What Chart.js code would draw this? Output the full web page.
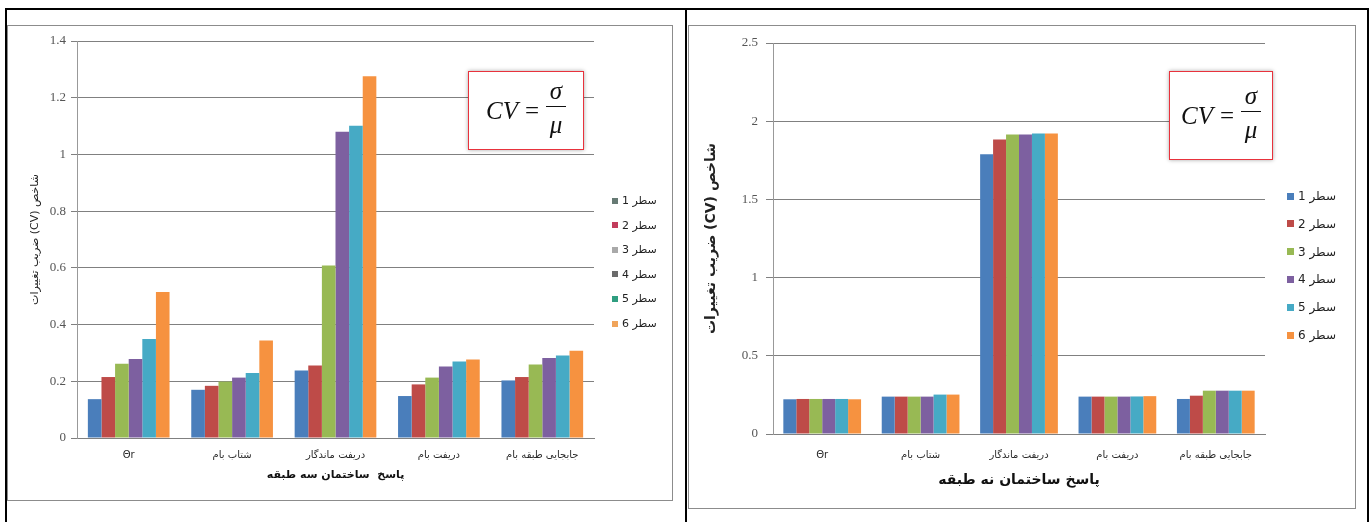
<!DOCTYPE html>
<html lang="fa">
<head>
<meta charset="utf-8">
<script src="https://cdn.jsdelivr.net/npm/chart.js@4.4.0/dist/chart.umd.min.js"></script>
<style>
  body { margin: 0; width: 1370px; height: 522px; overflow: hidden; position: relative; background: #fff; }
  .frame { position: absolute; left: 5px; top: 8px; width: 1360px; height: 530px; border: 2px solid #000; border-bottom: none; }
  .divider { position: absolute; left: 685px; top: 8px; width: 2px; height: 514px; background: #000; }
  .panel { position: absolute; border: 1px solid #8c8c8c; background: #fff; }
  canvas { position: absolute; }
  .formula { position: absolute; background: #fff; border: 1px solid #e8323c; box-shadow: 0 0 4px rgba(0,0,0,0.35);
             display: flex; align-items: center; justify-content: center; font-family: "Liberation Serif", serif; font-size: 25px; color: #111; }
  .formula .cv { font-style: italic; }
  .formula .eq { margin: 0 7px; }
  .formula .frac { display: inline-flex; flex-direction: column; align-items: center; font-style: italic; line-height: 1; position: relative; top: -3px; }
  .formula .bar { display: block; width: 20px; height: 1px; background: #111; margin: 3px 0 5px; }
  .legend { position: absolute; font-family: "DejaVu Sans", sans-serif; color: #222; }
  .legend div { display: flex; align-items: center; position: absolute; left: 0; white-space: nowrap; }
  .legend i { display: inline-block; }
</style>
</head>
<body>
<div class="frame"></div>
<div class="divider"></div>
<div class="panel" style="left:7px;top:25px;width:664px;height:474px"></div>
<div class="panel" style="left:688px;top:25px;width:666px;height:482px"></div>
<canvas id="threeStory" dir="rtl" width="664" height="474" style="left:8px;top:26px"></canvas>
<canvas id="nineStory" dir="rtl" width="666" height="482" style="left:689px;top:26px"></canvas>
<div class="formula" style="left:468px;top:71px;width:114px;height:77px">
  <span class="cv">CV</span><span class="eq">=</span><span class="frac"><span>σ</span><span class="bar"></span><span>μ</span></span>
</div>
<div class="formula" style="left:1169px;top:71px;width:102px;height:87px">
  <span class="cv">CV</span><span class="eq">=</span><span class="frac"><span>σ</span><span class="bar"></span><span>μ</span></span>
</div>
<div class="legend" id="legendThree" style="left:612px;top:202px;font-size:11px"></div>
<div class="legend" id="legendNine" style="left:1287px;top:197px;font-size:12px"></div>
<script>
const categories = ['Θr', 'شتاب بام', 'دریفت ماندگار', 'دریفت بام', 'جابجایی طبقه بام'];
const seriesNames = ['سطر 1', 'سطر 2', 'سطر 3', 'سطر 4', 'سطر 5', 'سطر 6'];
const seriesColors = ['#4a7ebb', '#be4b48', '#98b954', '#7d60a0', '#46aac5', '#f69240'];
// the left legend swatches came out washed in the scan
const legendSwatchesThree = ['#667a74', '#c23c5c', '#a9a9a9', '#6b6b6b', '#2f9e80', '#f0a45a'];

// three-story building
const threeRow1 = [0.137, 0.170, 0.238, 0.148, 0.203];
const threeRow2 = [0.215, 0.184, 0.256, 0.189, 0.215];
const threeRow3 = [0.262, 0.199, 0.608, 0.213, 0.259];
const threeRow4 = [0.279, 0.213, 1.080, 0.252, 0.282];
const threeRow5 = [0.349, 0.229, 1.101, 0.270, 0.291];
const threeRow6 = [0.515, 0.344, 1.276, 0.277, 0.308];
const threeTicks = [0, 0.2, 0.4, 0.6, 0.8, 1, 1.2, 1.4];

// nine-story building
const nineRow1 = [0.222, 0.239, 1.788, 0.239, 0.224];
const nineRow2 = [0.224, 0.239, 1.883, 0.239, 0.245];
const nineRow3 = [0.224, 0.239, 1.915, 0.239, 0.277];
const nineRow4 = [0.224, 0.239, 1.915, 0.239, 0.277];
const nineRow5 = [0.224, 0.252, 1.921, 0.240, 0.277];
const nineRow6 = [0.222, 0.252, 1.921, 0.242, 0.277];
const nineTicks = [0, 0.5, 1, 1.5, 2, 2.5];

const yTitle = 'شاخص (CV) ضریب تغییرات';

function drawChart(id, rows, ticks, o) {
  return new Chart(document.getElementById(id), {
    type: 'bar',
    data: {
      labels: categories,
      datasets: rows.map((r, i) => ({
        label: seriesNames[i],
        data: r,
        backgroundColor: seriesColors[i],
        categoryPercentage: 0.79,
        barPercentage: 1
      }))
    },
    options: {
      responsive: false,
      animation: false,
      devicePixelRatio: 1,
      layout: { padding: { left: 0, top: o.top, right: o.right, bottom: 0 } },
      plugins: { legend: { display: false }, tooltip: { enabled: false } },
      scales: {
        x: {
          grid: { display: false, drawTicks: false },
          border: { color: '#808080' },
          ticks: { padding: o.xPad, color: '#2a2a2a', autoSkip: false, maxRotation: 0,
                   font: { family: 'DejaVu Sans', size: 10 } },
          title: { display: true, text: o.xTitle, color: '#111',
                   font: { family: 'DejaVu Sans', size: o.xTitleSize, weight: 'bold' },
                   padding: { top: 0, bottom: o.xTitlePad } },
          afterFit: s => { s.height = o.xH; }
        },
        y: {
          min: 0,
          max: ticks[ticks.length - 1],
          afterBuildTicks: s => { s.ticks = ticks.map(v => ({ value: v })); },
          grid: { color: '#808080', tickColor: '#808080', tickLength: o.tl },
          border: { color: '#999' },
          ticks: { padding: o.yPad, color: '#555', callback: v => String(v),
                   font: { family: 'Liberation Serif', size: 13 } },
          title: { display: true, text: yTitle, color: '#222',
                   font: { family: 'DejaVu Sans', size: o.yTitleSize, weight: o.yTitleWeight },
                   padding: { top: o.yTitlePad, bottom: 0 } },
          afterFit: s => { s.width = o.yW; }
        }
      }
    }
  });
}

function buildLegend(id, swatches, step, box) {
  const el = document.getElementById(id);
  seriesNames.forEach((name, i) => {
    const row = document.createElement('div');
    row.style.top = (i * step - 8) + 'px';
    row.innerHTML = '<i style="width:' + box + 'px;height:' + box + 'px;background:' + swatches[i] +
      ';margin-right:4px"></i><span dir="rtl">' + name + '</span>';
    el.appendChild(row);
  });
}

drawChart('threeStory', [threeRow1, threeRow2, threeRow3, threeRow4, threeRow5, threeRow6], threeTicks, {
  top: 15, right: 78, xH: 62, xPad: 11, xTitle: 'پاسخ  ساختمان سه طبقه', xTitleSize: 11, xTitlePad: 18,
  yW: 69, tl: 6, yPad: 5, yTitleSize: 11, yTitleWeight: 'normal', yTitlePad: 21
});
drawChart('nineStory', [nineRow1, nineRow2, nineRow3, nineRow4, nineRow5, nineRow6], nineTicks, {
  top: 17, right: 90, xH: 74, xPad: 15, xTitle: 'پاسخ ساختمان نه طبقه', xTitleSize: 14, xTitlePad: 19,
  yW: 84, tl: 7, yPad: 8, yTitleSize: 14, yTitleWeight: 'bold', yTitlePad: 14
});
buildLegend('legendThree', legendSwatchesThree, 24.6, 6);
buildLegend('legendNine', seriesColors, 27.8, 7);
</script>
</body>
</html>
